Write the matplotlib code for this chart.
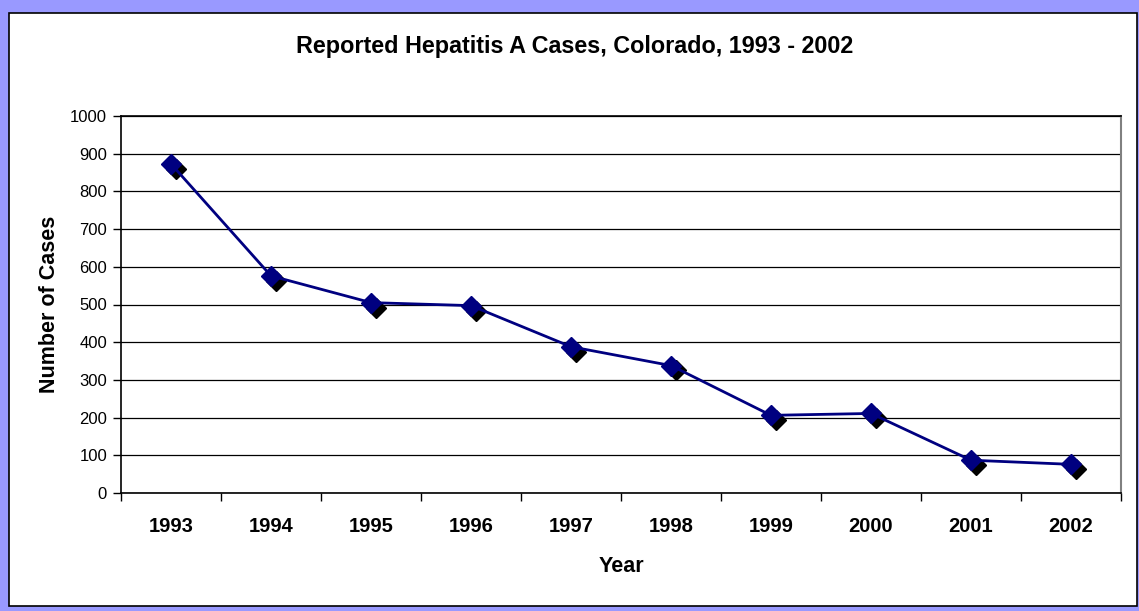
import matplotlib
matplotlib.use("Agg")
import matplotlib.pyplot as plt
from matplotlib.patches import Rectangle
import numpy as np

years = ["1993", "1994", "1995", "1996", "1997", "1998", "1999", "2000", "2001", "2002"]
cases = [873, 576, 505, 497, 388, 338, 206, 211, 87, 76]
yticks = [0, 100, 200, 300, 400, 500, 600, 700, 800, 900, 1000]

plt.rcParams['font.family'] = ['Liberation Sans', 'DejaVu Sans']

W, H = 1139, 611
fig = plt.figure(figsize=(W / 100, H / 100), dpi=100)
fig.patch.set_facecolor('#9999FF')

# white chart area with black border
rect = Rectangle((9 / W, 1 - 606 / H), (1137 - 9) / W, (606 - 13) / H,
                 transform=fig.transFigure, facecolor='white',
                 edgecolor='black', linewidth=1.2, zorder=-5)
fig.add_artist(rect)

ax = fig.add_axes([121 / W, 1 - 493 / H, 1000 / W, 377 / H])
ax.set_zorder(1)
ax.set_facecolor('white')
x = np.arange(len(years))

# shadow markers
ax.plot(x + 0.05, np.array(cases) - 13, linestyle='none', marker='D', markersize=10,
        color='black', zorder=3)
ax.plot(x, cases, color='#000080', linewidth=2, marker='D', markersize=10,
        markerfacecolor='#000080', markeredgecolor='#000080', zorder=4)

ax.set_xlim(-0.5, len(years) - 0.5)
ax.set_ylim(0, 1000)
ax.set_yticks(yticks)
ax.set_yticklabels([str(v) for v in yticks], fontsize=12)
ax.yaxis.grid(True, color='black', linewidth=0.9)
ax.set_axisbelow(True)

ax.set_xticks(np.arange(-0.5, len(years), 1.0))
ax.set_xticklabels([''] * (len(years) + 1))
ax.set_xticks(x, minor=True)
ax.set_xticklabels(years, minor=True, fontsize=14.5, fontweight='bold')
ax.tick_params(axis='x', which='minor', length=0, pad=17)
ax.tick_params(axis='x', which='major', length=6, width=1, direction='out')
ax.tick_params(axis='y', length=6, width=1, direction='out', pad=4)

for s in ['left', 'bottom', 'top']:
    ax.spines[s].set_color('black')
    ax.spines[s].set_linewidth(1.2)
ax.spines['right'].set_color('#808080')
ax.spines['right'].set_linewidth(1.5)

ax.set_xlabel('Year', fontsize=15.5, fontweight='bold', labelpad=15)
ax.set_ylabel('Number of Cases', fontsize=15.5, fontweight='bold', labelpad=7)
fig.text(575 / W, 1 - 47 / H, 'Reported Hepatitis A Cases, Colorado, 1993 - 2002',
         ha='center', va='center', fontsize=16.8, fontweight='bold')

fig.savefig('out.png', dpi=100, facecolor=fig.get_facecolor())
